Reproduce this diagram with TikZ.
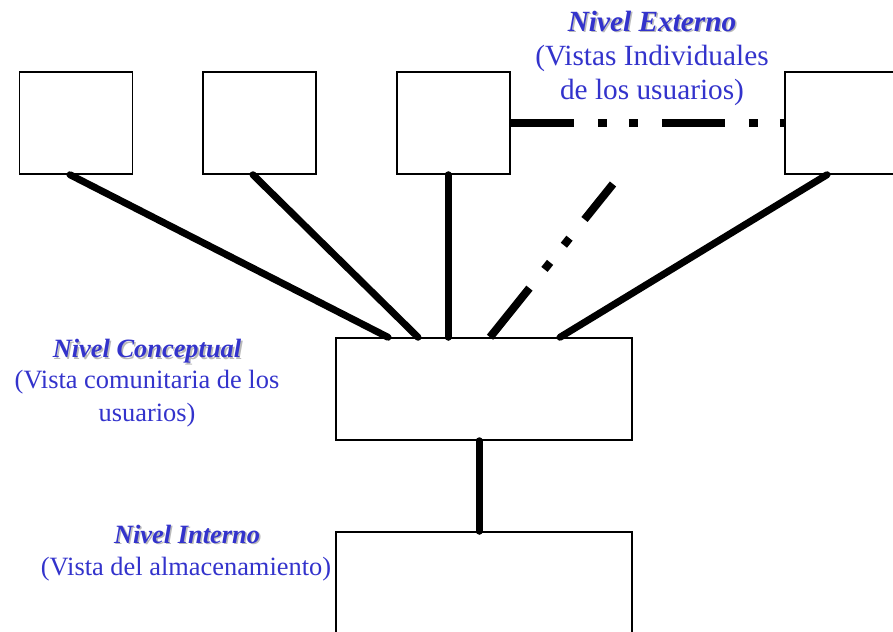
\documentclass[tikz,border=0pt]{standalone}
\usepackage{fontspec}
\setmainfont{Liberation Serif}
\definecolor{lblue}{RGB}{51,51,204}
\definecolor{shadowgray}{RGB}{185,185,185}
\newcommand\shadowtxt[1]{\makebox[0pt][l]{\hspace{1.6pt}\raisebox{-1.6pt}{\textcolor{shadowgray}{#1}}}#1}
\begin{document}
\begin{tikzpicture}[x=1pt,y=-1pt,
  box/.style={draw,line width=1.5pt,inner sep=0pt,minimum width=113pt,minimum height=102pt},
  bigbox/.style={draw,line width=1.5pt,inner sep=0pt,minimum width=296pt,minimum height=102pt},
  conn/.style={line width=7pt,line cap=round},
  dashconn/.style={line width=8pt,line cap=butt,dash pattern=on 63pt off 24pt on 9pt off 22pt on 9pt off 24pt},
  txt/.style={text=lblue,font=\fontsize{26.4}{33}\selectfont,align=center,inner sep=0pt},
  txtbig/.style={text=lblue,font=\fontsize{29.3}{34}\selectfont,align=center,inner sep=0pt},
  ttl/.style={text=lblue,font=\fontsize{26.4}{33}\selectfont\bfseries\itshape,inner sep=0pt},
  ttlbig/.style={text=lblue,font=\fontsize{29.3}{34}\selectfont\bfseries\itshape,inner sep=0pt}]
\clip (0,0) rectangle (893,631);
\fill[white] (0,0) rectangle (893,631);
% boxes
\node[box] (b1) at (76,123) {};
\node[box] (b2) at (259.5,123) {};
\node[box] (b3) at (453.5,123) {};
\node[box] (b4) at (841.5,123) {};
\node[bigbox] (c) at (484,389) {};
\node[bigbox] (d) at (484,583) {};
% connectors
\draw[conn] ([xshift=-6pt]b1.south) -- ([xshift=-96pt]c.north);
\draw[conn] ([xshift=-6.5pt]b2.south) -- ([xshift=-66pt]c.north);
\draw[conn] ([xshift=-5.5pt]b3.south) -- ([xshift=-36pt]c.north);
\coordinate (dtop) at (613,184);
\draw[dashconn] ([xshift=6pt]c.north) -- (dtop);
\draw[conn] ([xshift=-14.5pt]b4.south) -- ([xshift=76pt]c.north);
\draw[dashconn] (b3.east) -- (b4.west);
\draw[conn] ([xshift=-5pt]c.south) -- ([xshift=-5pt]d.north);
% labels
\node[ttlbig] (t1) at (652,22) {\shadowtxt{Nivel Externo}};
\node[txtbig] (s1) at (652,75) {(Vistas Individuales\\de los usuarios)};
\node[ttl] (t2) at (147,352) {\shadowtxt{Nivel Conceptual}};
\node[txt] (s2) at (147,399) {(Vista comunitaria de los\\usuarios)};
\node[ttl] (t3) at (187,535) {\shadowtxt{Nivel Interno}};
\node[txt] (s3) at (186,569) {(Vista del almacenamiento)};
\end{tikzpicture}
\end{document}
